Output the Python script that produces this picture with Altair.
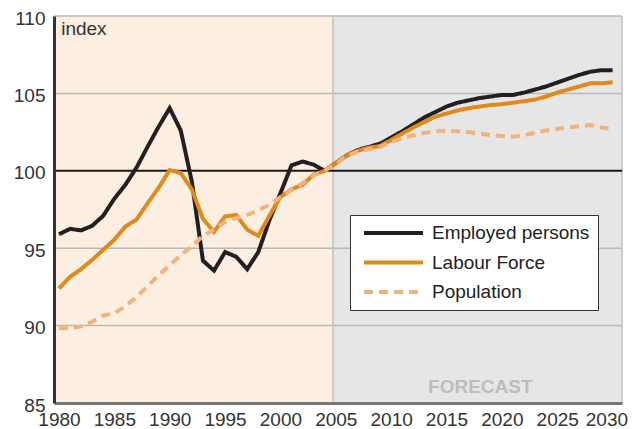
import altair as alt
import pandas as pd

years = list(range(1980, 2031))

employed = [95.9, 96.25, 96.15, 96.45, 97.1, 98.2, 99.1, 100.2, 101.55, 102.85,
            104.05, 102.6, 99.3, 94.2, 93.55, 94.75, 94.45, 93.65, 94.75, 96.8,
            98.55, 100.35, 100.6, 100.4, 100.0, 100.5, 101.0, 101.35, 101.55, 101.75,
            102.15, 102.55, 103.0, 103.45, 103.8, 104.15, 104.4, 104.55, 104.7, 104.8,
            104.9, 104.9, 105.05, 105.25, 105.45, 105.7, 105.95, 106.2, 106.4, 106.5,
            106.5]

labour = [92.4, 93.15, 93.65, 94.25, 94.9, 95.55, 96.4, 96.85, 97.9, 98.9,
          100.05, 99.85, 98.8, 96.9, 96.05, 97.05, 97.15, 96.2, 95.8, 97.1,
          98.3, 98.8, 99.1, 99.75, 100.0, 100.48, 101.0, 101.3, 101.5, 101.6,
          102.0, 102.4, 102.8, 103.15, 103.5, 103.7, 103.9, 104.05, 104.15, 104.25,
          104.3, 104.4, 104.5, 104.6, 104.8, 105.05, 105.25, 105.45, 105.65, 105.65,
          105.72]

population = [89.85, 89.8, 89.95, 90.25, 90.65, 90.8, 91.25, 91.85, 92.55, 93.25,
              93.9, 94.55, 95.1, 95.8, 96.2, 96.7, 96.95, 97.15, 97.45, 97.8,
              98.3, 98.75, 99.2, 99.7, 100.0, 100.45, 100.95, 101.25, 101.4, 101.55,
              101.85, 102.1, 102.3, 102.45, 102.55, 102.6, 102.55, 102.5, 102.4, 102.3,
              102.25, 102.2, 102.3, 102.45, 102.6, 102.72, 102.8, 102.88, 102.95, 102.8,
              102.7]

series_names = ["Employed persons", "Labour Force", "Population"]
series_colors = ["#231f20", "#e08a1a", "#f2b27a"]
series_dash = [[1, 0], [1, 0], [9, 6]]

x_ticks = [1980, 1985, 1990, 1995, 2000, 2005, 2010, 2015, 2020, 2025, 2030]
y_ticks = [85, 90, 95, 100, 105, 110]
grid_values = [90, 95, 105, 110]

x_min, x_max = 1979.55, 2030.85
forecast_start = 2004.75

rows = []
for name, vals in zip(series_names, [employed, labour, population]):
    for yr, v in zip(years, vals):
        rows.append({"year": yr, "value": v, "series": name})
df = pd.DataFrame(rows)

FONT = "Liberation Sans"

xscale = alt.Scale(domain=[x_min, x_max], nice=False, zero=False)
yscale = alt.Scale(domain=[85, 110], nice=False, zero=False)

xaxis = alt.Axis(values=x_ticks, format="d", title=None, grid=False, ticks=False,
                 domainColor="#777777", domainWidth=3, labelFontSize=19,
                 labelColor="#333333", labelFont=FONT, labelPadding=7,
                 labelFlush=False, zindex=1,
                 labelAlign={"condition": {"test": "datum.value == 2030", "value": "right"},
                             "value": "center"},
                 labelOffset={"condition": {"test": "datum.value == 2030", "value": 15},
                              "value": 0})
yaxis = alt.Axis(values=y_ticks, title=None, grid=False, ticks=False,
                 domainColor="#333333", domainWidth=3, labelFontSize=19,
                 labelColor="#333333", labelFont=FONT, labelPadding=9,
                 labelOffset=2, zindex=1)

bg_hist = alt.Chart(pd.DataFrame({"x0": [x_min], "x1": [forecast_start]})).mark_rect(
    color="#fcefe2"
).encode(
    x=alt.X("x0:Q", scale=xscale, axis=xaxis),
    x2="x1:Q",
    y=alt.value(0),
    y2=alt.value(387),
)

bg_fc = alt.Chart(pd.DataFrame({"x0": [forecast_start], "x1": [x_max]})).mark_rect(
    color="#e6e6e6"
).encode(
    x=alt.X("x0:Q", scale=xscale),
    x2="x1:Q",
    y=alt.value(0),
    y2=alt.value(387),
)

grid = alt.Chart(pd.DataFrame({"g": grid_values})).mark_rule(
    color="#b8b8b8", strokeWidth=1.5
).encode(y=alt.Y("g:Q", scale=yscale, axis=yaxis))

divider = alt.Chart(pd.DataFrame({"d": [forecast_start]})).mark_rule(
    color="#c0c0c0", strokeWidth=1.5
).encode(x=alt.X("d:Q", scale=xscale))

right_border = alt.Chart(pd.DataFrame({"d": [x_max]})).mark_rule(
    color="#c0c0c0", strokeWidth=1.5
).encode(x=alt.X("d:Q", scale=xscale))

base_line = alt.Chart(pd.DataFrame({"b": [100]})).mark_rule(
    color="#1a1a1a", strokeWidth=2
).encode(y=alt.Y("b:Q", scale=yscale))

legend = alt.Legend(orient="none", legendX=296, legendY=199, title=None,
                    symbolType="stroke", symbolSize=3481, symbolStrokeWidth=4,
                    symbolOffset=4, clipHeight=20,
                    labelFontSize=19, labelFont=FONT, labelColor="#222222",
                    strokeColor="#333333", fillColor="#ffffff",
                    padding=8, rowPadding=9.5, labelOffset=7)

lines = alt.Chart(df).mark_line(strokeWidth=4).encode(
    x=alt.X("year:Q", scale=xscale),
    y=alt.Y("value:Q", scale=yscale),
    color=alt.Color("series:N", scale=alt.Scale(domain=series_names, range=series_colors),
                    legend=legend),
    strokeDash=alt.StrokeDash("series:N", scale=alt.Scale(domain=series_names, range=series_dash),
                              legend=legend),
    order=alt.Order("year:Q"),
)

index_text = alt.Chart(pd.DataFrame({"x": [1980.2], "y": [108.77], "t": ["index"]})).mark_text(
    align="left", baseline="alphabetic", fontSize=19, font=FONT, color="#333333"
).encode(x=alt.X("x:Q", scale=xscale), y=alt.Y("y:Q", scale=yscale), text="t:N")

forecast_text = alt.Chart(pd.DataFrame({"x": [2018.05], "y": [85.65], "t": ["FORECAST"]})).mark_text(
    align="center", baseline="alphabetic", fontSize=19, font=FONT, fontWeight="bold",
    color="#bdbdbd"
).encode(x=alt.X("x:Q", scale=xscale), y=alt.Y("y:Q", scale=yscale), text="t:N")

chart = alt.layer(
    bg_hist, bg_fc, grid, divider, right_border, base_line, lines, index_text, forecast_text
).properties(
    width=568, height=387,
    autosize=alt.AutoSizeParams(type="none"),
    padding={"left": 46, "top": 8, "right": 6, "bottom": 26},
).configure_view(stroke=None)

chart.save("out.html", embed_options={"renderer": "svg", "actions": False})
